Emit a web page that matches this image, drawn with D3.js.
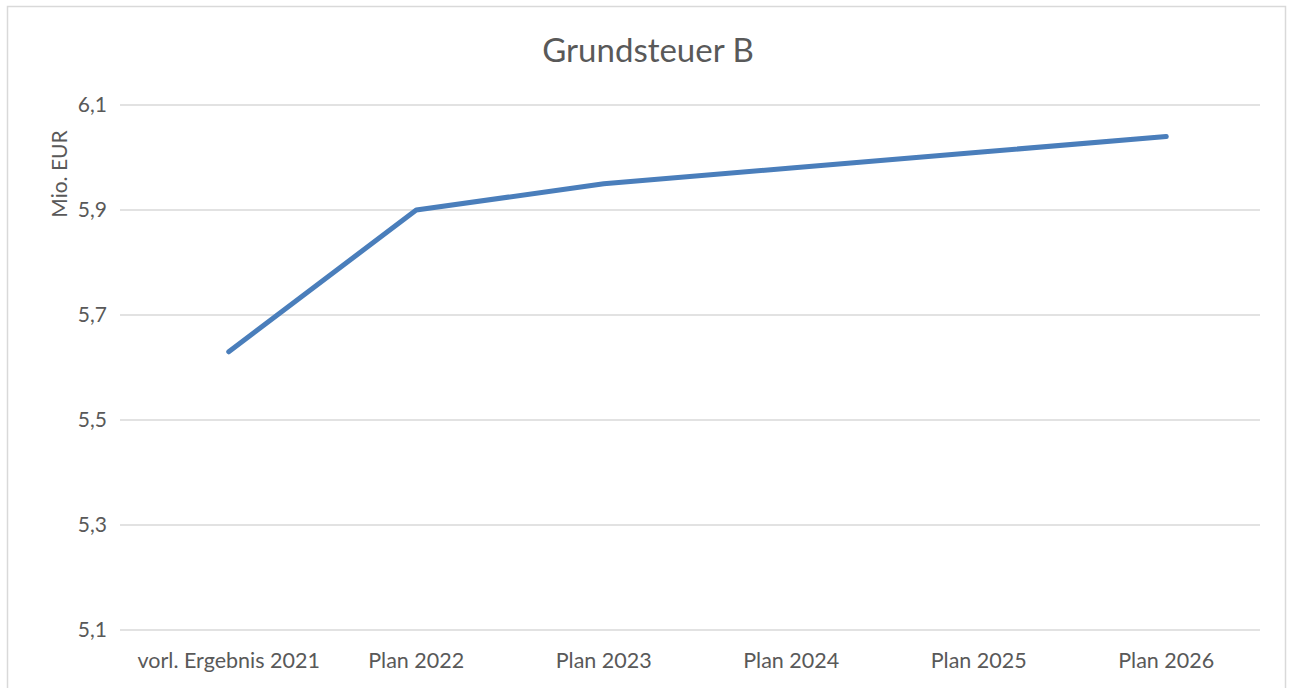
<!DOCTYPE html>
<html>
<head>
<meta charset="utf-8">
<script src="https://cdn.jsdelivr.net/npm/d3@7"></script>
<style>
  html, body { margin: 0; padding: 0; background: #fff; }
  svg { display: block; }
</style>
</head>
<body>
<div id="chart"></div>
<script>
// Chart data
const categories = ["vorl. Ergebnis 2021", "Plan 2022", "Plan 2023", "Plan 2024", "Plan 2025", "Plan 2026"];
const values = [5.63, 5.90, 5.95, 5.98, 6.01, 6.04];
const yTicks = [5.1, 5.3, 5.5, 5.7, 5.9, 6.1];
const chartTitle = "Grundsteuer B";
const yTitle = "Mio. EUR";

const width = 1289;
const height = 688;
const margin = {top: 105, right: 29, bottom: 58, left: 135};
const textColor = "#595959";
const font = "Lato, 'Open Sans', sans-serif";

function main() {
    const svg = d3.select("#chart").append("svg")
        .attr("width", width)
        .attr("height", height);

    // Chart frame
    svg.append("rect")
        .attr("x", 7.5)
        .attr("y", 6.5)
        .attr("width", 1278)
        .attr("height", 700)
        .attr("fill", "#fff")
        .attr("stroke", "#d9d9d9")
        .attr("stroke-width", 1.5);

    const x = d3.scalePoint()
        .domain(categories)
        .range([margin.left, width - margin.right])
        .padding(0.5);

    const y = d3.scaleLinear()
        .domain([5.1, 6.1])
        .range([height - margin.bottom, margin.top]);

    // Gridlines
    svg.append("g")
        .selectAll("line")
        .data(yTicks)
        .join("line")
        .attr("x1", margin.left - 15)
        .attr("x2", width - margin.right)
        .attr("y1", d => y(d))
        .attr("y2", d => y(d))
        .attr("stroke", "#d9d9d9")
        .attr("stroke-width", 1.5);

    // Y tick labels
    svg.append("g")
        .selectAll("text")
        .data(yTicks)
        .join("text")
        .attr("x", 107)
        .attr("y", d => y(d))
        .attr("dy", "0.35em")
        .attr("text-anchor", "end")
        .attr("font-family", font)
        .attr("font-size", 21)
        .attr("fill", textColor)
        .text(d => d3.format(".1f")(d).replace(".", ","));

    // X category labels
    svg.append("g")
        .selectAll("text")
        .data(categories)
        .join("text")
        .attr("x", d => x(d))
        .attr("y", height - margin.bottom + 38)
        .attr("text-anchor", "middle")
        .attr("font-family", font)
        .attr("font-size", 21.5)
        .attr("fill", textColor)
        .text(d => d);

    // Line
    const line = d3.line()
        .x((d, i) => x(categories[i]))
        .y(d => y(d));

    svg.append("path")
        .datum(values)
        .attr("d", line)
        .attr("fill", "none")
        .attr("stroke", "#4a7ebb")
        .attr("stroke-width", 5)
        .attr("stroke-linecap", "round")
        .attr("stroke-linejoin", "round");

    // Title
    svg.append("text")
        .attr("x", 648)
        .attr("y", 62)
        .attr("text-anchor", "middle")
        .attr("font-family", font)
        .attr("font-size", 33)
        .attr("fill", textColor)
        .text(chartTitle);

    // Y axis title
    svg.append("text")
        .attr("transform", "translate(67,174) rotate(-90)")
        .attr("text-anchor", "middle")
        .attr("font-family", font)
        .attr("font-size", 21)
        .attr("fill", textColor)
        .text(yTitle);
}

main();
</script>
</body>
</html>
